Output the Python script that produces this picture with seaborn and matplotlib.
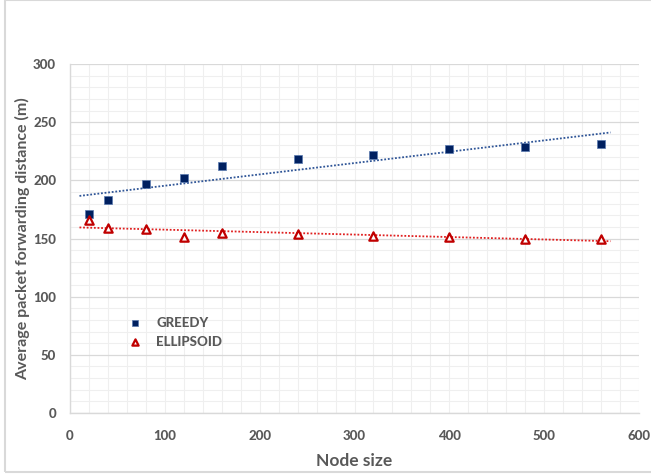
import numpy as np
import pandas as pd
import matplotlib
matplotlib.use("Agg")
import matplotlib.pyplot as plt
import seaborn as sns
from matplotlib.ticker import MultipleLocator
from matplotlib.patches import Rectangle
from matplotlib import font_manager as fm

node_size = [20, 40, 80, 120, 160, 240, 320, 400, 480, 560]
greedy = [171, 183, 197, 202, 212, 218, 222, 227, 229, 231]
ellipsoid = [166, 159, 158, 151, 155, 154, 152, 151, 150, 150]
series_names = ["GREEDY", "ELLIPSOID"]

sns.set_theme(style="white")
plt.rcParams['font.family'] = ['Lato', 'DejaVu Sans']

fig = plt.figure(figsize=(6.51, 4.76), dpi=100)
ax = fig.add_axes([70/651, 1-413/476, (639-70)/651, (413-64)/476])

grid_minor = "#efefef"
grid_major = "#d9d9d9"
text_col = "#595959"

df = pd.DataFrame({"x": node_size * 2,
                   "y": greedy + ellipsoid,
                   "s": [series_names[0]] * len(node_size) + [series_names[1]] * len(node_size)})

sns.scatterplot(data=df[df.s == "GREEDY"], x="x", y="y", ax=ax, marker="s", s=38,
                color="#002060", edgecolor="#5a7ab0", linewidth=0.5, label="GREEDY", zorder=4)
sns.scatterplot(data=df[df.s == "ELLIPSOID"], x="x", y="y", ax=ax, marker="^", s=36,
                facecolor="white", edgecolor="#C00000", linewidth=1.6, label="ELLIPSOID", zorder=4)

xs = np.array([10, 570])
for vals, col in [(greedy, "#2F5597"), (ellipsoid, "#E02020")]:
    m, b = np.polyfit(node_size, vals, 1)
    ax.plot(xs, m * xs + b, linestyle=(0, (1, 1)), color=col, linewidth=1.3, zorder=3)

ax.set_xlim(0, 600)
ax.set_ylim(0, 300)
ax.xaxis.set_major_locator(MultipleLocator(100))
ax.xaxis.set_minor_locator(MultipleLocator(20))
ax.yaxis.set_major_locator(MultipleLocator(50))
ax.yaxis.set_minor_locator(MultipleLocator(10))
ax.grid(which="minor", color=grid_minor, linewidth=0.8, zorder=0)
ax.grid(which="major", axis="x", color=grid_minor, linewidth=0.8, zorder=0)
ax.grid(which="major", axis="y", color=grid_major, linewidth=0.9, zorder=1)
ax.set_axisbelow(True)
for side in ["top", "right"]:
    ax.spines[side].set_visible(False)
for side in ["left", "bottom"]:
    ax.spines[side].set_color(grid_major)
    ax.spines[side].set_linewidth(1.0)
ax.tick_params(which="both", length=0)
ax.tick_params(axis="x", pad=12)
ax.tick_params(axis="y", pad=10)
for lbl in ax.get_xticklabels() + ax.get_yticklabels():
    lbl.set_fontsize(9.5)
    lbl.set_fontweight(900)
    lbl.set_color(text_col)

ax.set_xlabel("Node size", fontsize=12.5, fontweight="bold", color=text_col, labelpad=8)
ax.set_ylabel("Average packet forwarding distance (m)", fontsize=11.5, fontweight="bold",
              color=text_col, labelpad=2)

leg = ax.legend(loc="upper left", bbox_to_anchor=(0.07, 0.31), frameon=False,
                prop={"family": ["Lato", "DejaVu Sans"], "weight": 900, "size": 9.5},
                handletextpad=0.6, labelspacing=0.55, markerscale=0.75)
for t in leg.get_texts():
    t.set_color(text_col)

fig.patches.append(Rectangle((5/651, 4/476), 660/651, 472/476, transform=fig.transFigure,
                             fill=False, edgecolor="#d9d9d9", linewidth=1.5))

fig.savefig("out.png", dpi=100)
